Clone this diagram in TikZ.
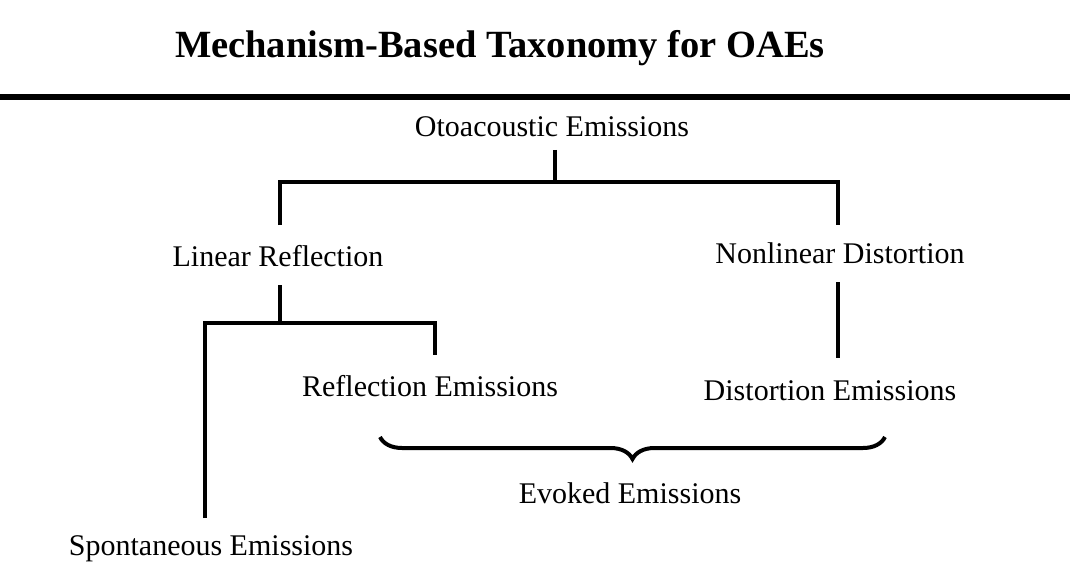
\documentclass[tikz,border=0pt]{standalone}
\usepackage{fontspec}
\setmainfont{Liberation Serif}
\usetikzlibrary{decorations.pathreplacing}

\begin{document}
\begin{tikzpicture}[x=1pt, y=1pt,
  term/.style={inner sep=0pt, anchor=base, font=\fontsize{30}{36}\selectfont},
  branch/.style={line width=4.5pt, color=black}]
\useasboundingbox (0,0) rectangle (1070,-564);
\node (title) [inner sep=0pt, anchor=base, font=\fontsize{38.5}{46}\selectfont\bfseries] at (500, -58) {Mechanism-Based Taxonomy for OAEs};
\coordinate (r1) at (0, -97);
\coordinate (r2) at (1070, -97);
\draw [line width=5.5pt] (r1) -- (r2);
\node (oto) [term] at (552, -137) {Otoacoustic Emissions};
\node (lr) [term] at (278, -266) {Linear Reflection};
\node (nd) [term] at (840, -263) {Nonlinear Distortion};
\node (re) [term] at (430, -396) {Reflection Emissions};
\node (de) [term] at (830, -400) {Distortion Emissions};
\node (ee) [term] at (630, -503) {Evoked Emissions};
\node (se) [term] at (211, -555) {Spontaneous Emissions};
\coordinate (j1t) at (555, -150);
\coordinate (j1) at (555, -182);
\coordinate (lrt) at (280, -225);
\coordinate (ndt) at (838, -225);
\coordinate (lrb) at (280, -285);
\coordinate (j2) at (280, -323);
\coordinate (ret) at (435, -355);
\coordinate (spt) at (205, -518);
\coordinate (ndb) at (838, -282);
\coordinate (det) at (838, -358);
\coordinate (bl) at (380, -437);
\coordinate (br) at (885, -437);
\draw [branch] (j1t) -- (j1);
\draw [branch] (lrt) |- (j1) -| (ndt);
\draw [branch] (lrb) -- (j2);
\draw [branch] (spt) |- (j2) -| (ret);
\draw [branch] (ndb) -- (det);
\draw [line width=4pt, decorate, decoration={brace, mirror, amplitude=22pt}] (bl) -- (br);
\end{tikzpicture}
\end{document}
